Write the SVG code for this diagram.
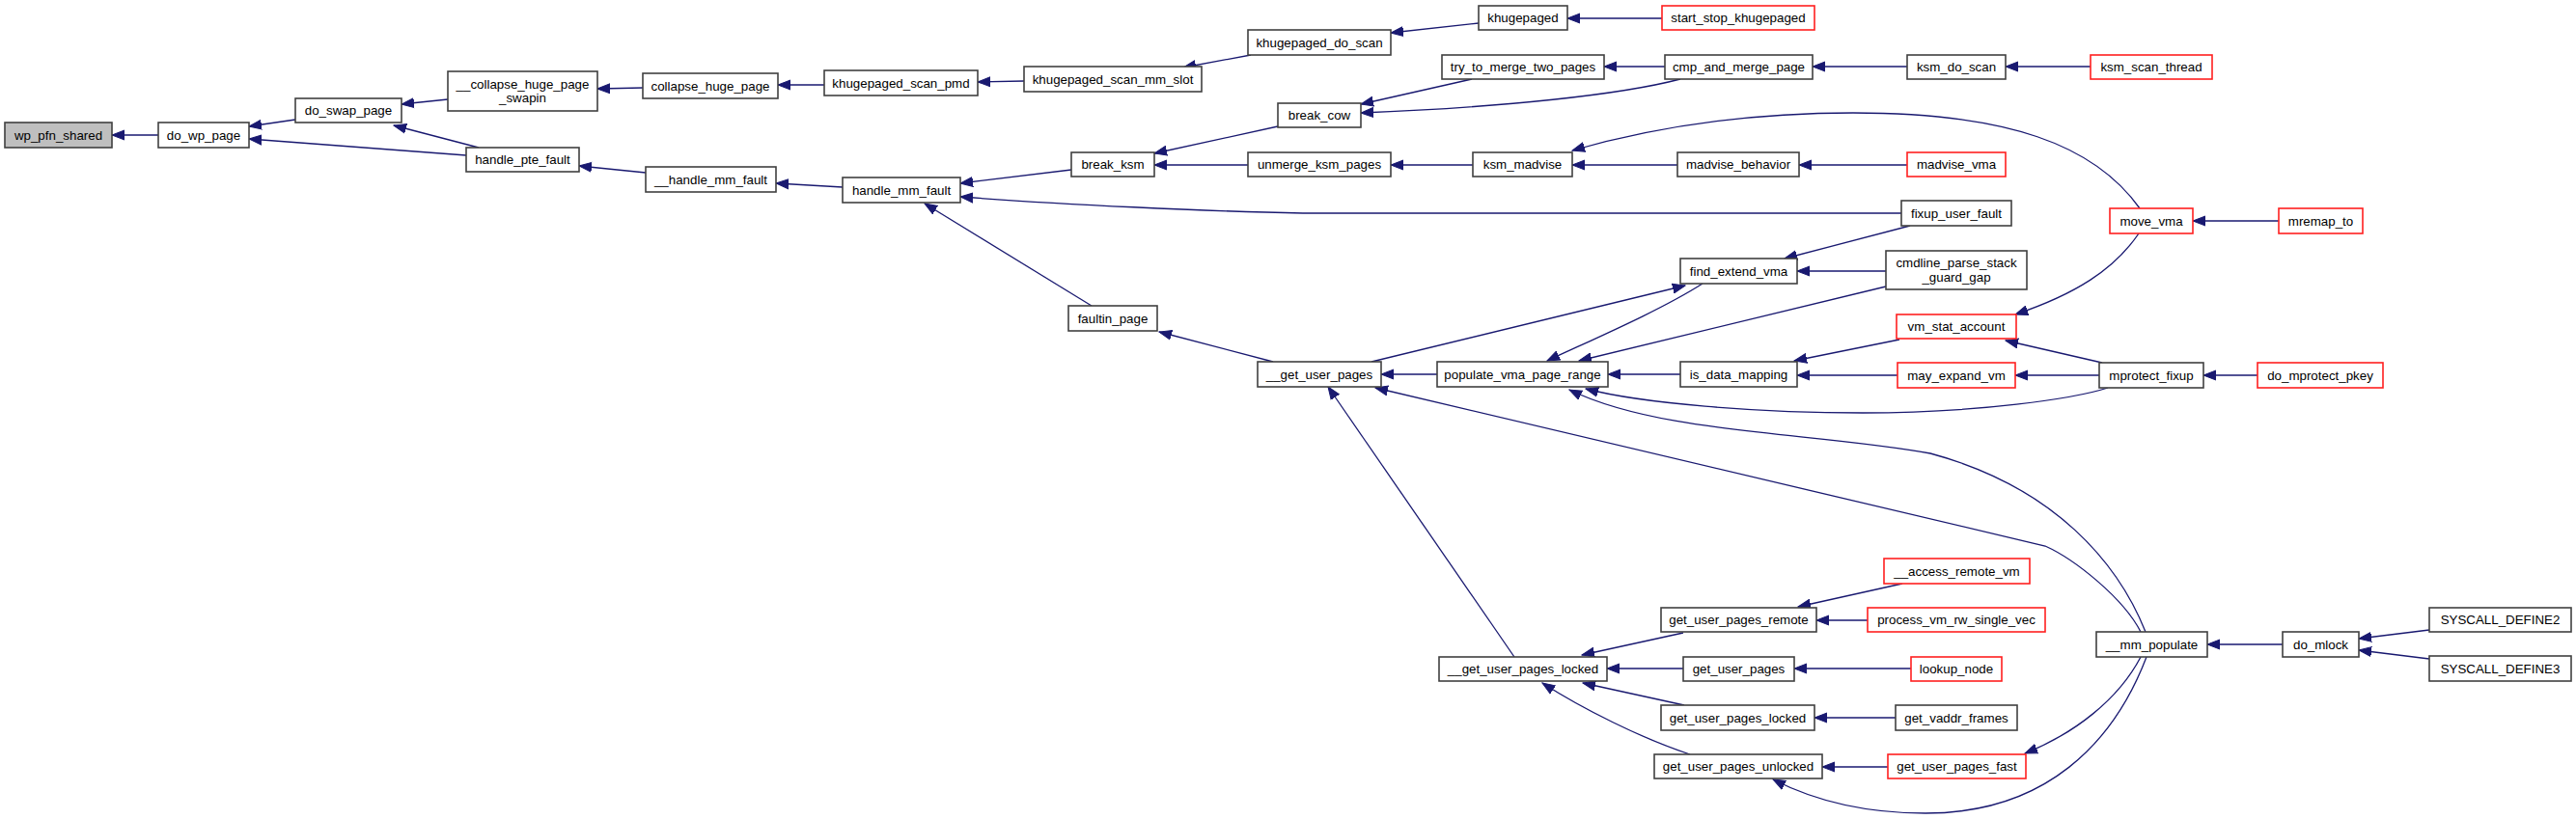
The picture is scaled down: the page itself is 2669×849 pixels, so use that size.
<svg xmlns="http://www.w3.org/2000/svg" width="2669" height="849" viewBox="0 0 2669 849">
<style>
.n rect{fill:#fff;stroke:#404040;stroke-width:1.6}
.r rect{fill:#fff;stroke:#ff2020;stroke-width:1.6}
.g rect{fill:#bfbfbf;stroke:#404040;stroke-width:1.6}
text{font-family:"Liberation Sans",Arial,Helvetica,sans-serif;font-size:13.33px;fill:#000;text-anchor:middle}
#edges path{fill:none;stroke:#191970;stroke-width:1.3;marker-end:url(#ah)}
</style>
<defs>
<marker id="ah" markerUnits="userSpaceOnUse" markerWidth="14" markerHeight="12" refX="13" refY="5" orient="auto" viewBox="0 0 14 10">
<path d="M0,0 L13,5 L0,10 z" fill="#191970" stroke="#191970" stroke-width="1"/>
</marker>
</defs>
<rect width="2669" height="849" fill="#fff"/>
<g id="edges">
<path d="M164,140 L116,140"/>
<path d="M306,124 L258,131"/>
<path d="M483,161 L258,144"/>
<path d="M464,103 L416,108"/>
<path d="M496,153 L408,130"/>
<path d="M666,91 L619,92"/>
<path d="M669,179 L600,172"/>
<path d="M854,88 L806,88"/>
<path d="M1061,84 L1013,85"/>
<path d="M1296,57 L1226,70"/>
<path d="M1532,24 L1441,34"/>
<path d="M1722,19 L1624,19"/>
<path d="M873,194 L804,190"/>
<path d="M1110,176 L995,190"/>
<path d="M1970,221 L1350,221 C1250,219 1100,212 995,204"/>
<path d="M1131,317 L958,211"/>
<path d="M1324,131 L1196,159"/>
<path d="M1293,171 L1196,171"/>
<path d="M1525,82 L1410,108"/>
<path d="M1741,82 C1680,98 1560,111 1410,117"/>
<path d="M1725,69 L1662,69"/>
<path d="M1976,69 L1878,69"/>
<path d="M2166,69 L2078,69"/>
<path d="M1526,171 L1441,171"/>
<path d="M1738,171 L1629,171"/>
<path d="M1976,171 L1864,171"/>
<path d="M2217,216 C2170,150 2080,117 1920,117 C1820,117 1720,130 1629,156"/>
<path d="M2361,229 L2272,229"/>
<path d="M1979,234 L1849,268"/>
<path d="M1954,281 L1862,281"/>
<path d="M1319,375 L1201,344"/>
<path d="M1421,375 L1746,296"/>
<path d="M1764,294 C1720,322 1650,352 1603,374"/>
<path d="M1954,297 L1636,374"/>
<path d="M1489,388 L1431,388"/>
<path d="M1741,388 L1666,388"/>
<path d="M1968,352 L1859,374"/>
<path d="M1966,389 L1862,389"/>
<path d="M2178,376 L2078,353"/>
<path d="M2216,242 C2190,280 2150,305 2088,326"/>
<path d="M2175,389 L2088,389"/>
<path d="M2339,389 L2283,389"/>
<path d="M2184,402 C2150,413 2050,428 1930,428 C1820,428 1700,418 1643,403"/>
<path d="M2223,655 C2195,585 2130,505 2000,470 C1880,448 1720,450 1626,404"/>
<path d="M2218,655 C2200,620 2150,580 2119,566 L1425,402"/>
<path d="M1569,681 L1376,401"/>
<path d="M1744,656 L1639,679"/>
<path d="M1971,605 L1863,629"/>
<path d="M1935,643 L1882,643"/>
<path d="M1744,693 L1665,693"/>
<path d="M1980,693 L1859,693"/>
<path d="M1745,731 L1640,708"/>
<path d="M1964,744 L1880,744"/>
<path d="M1751,782 C1700,765 1640,735 1598,708"/>
<path d="M1956,795 L1888,795"/>
<path d="M2218,681 C2195,725 2150,760 2098,781"/>
<path d="M2224,681 C2190,770 2120,843 1995,843 C1930,843 1880,830 1837,808"/>
<path d="M2365,668 L2287,668"/>
<path d="M2517,653 L2444,662"/>
<path d="M2517,683 L2444,674"/>
</g>
<g id="wp_pfn_shared" class="g"><rect x="5" y="127" width="111" height="26"/><text x="60.5" y="144.5">wp_pfn_shared</text></g>
<g id="do_wp_page" class="n"><rect x="164" y="127" width="94" height="26"/><text x="211" y="144.5">do_wp_page</text></g>
<g id="do_swap_page" class="n"><rect x="306" y="102" width="110" height="25"/><text x="361" y="119">do_swap_page</text></g>
<g id="__collapse_huge_page_swapin" class="n"><rect x="464" y="74" width="155" height="41"/><text x="541.5" y="91.5">__collapse_huge_page</text><text x="541.5" y="105.5">_swapin</text></g>
<g id="handle_pte_fault" class="n"><rect x="483" y="153" width="117" height="25"/><text x="541.5" y="170">handle_pte_fault</text></g>
<g id="collapse_huge_page" class="n"><rect x="666" y="76" width="140" height="26"/><text x="736" y="93.5">collapse_huge_page</text></g>
<g id="khugepaged_scan_pmd" class="n"><rect x="854" y="73" width="159" height="26"/><text x="933.5" y="90.5">khugepaged_scan_pmd</text></g>
<g id="khugepaged_scan_mm_slot" class="n"><rect x="1061" y="69" width="184" height="26"/><text x="1153" y="86.5">khugepaged_scan_mm_slot</text></g>
<g id="khugepaged_do_scan" class="n"><rect x="1293" y="31" width="148" height="26"/><text x="1367" y="48.5">khugepaged_do_scan</text></g>
<g id="khugepaged" class="n"><rect x="1532" y="6" width="92" height="25"/><text x="1578" y="23">khugepaged</text></g>
<g id="start_stop_khugepaged" class="r"><rect x="1722" y="6" width="158" height="25"/><text x="1801" y="23">start_stop_khugepaged</text></g>
<g id="__handle_mm_fault" class="n"><rect x="669" y="173" width="135" height="26"/><text x="736.5" y="190.5">__handle_mm_fault</text></g>
<g id="handle_mm_fault" class="n"><rect x="873" y="184" width="122" height="26"/><text x="934" y="201.5">handle_mm_fault</text></g>
<g id="break_ksm" class="n"><rect x="1110" y="158" width="86" height="25"/><text x="1153" y="175">break_ksm</text></g>
<g id="break_cow" class="n"><rect x="1324" y="107" width="86" height="25"/><text x="1367" y="124">break_cow</text></g>
<g id="unmerge_ksm_pages" class="n"><rect x="1293" y="158" width="148" height="25"/><text x="1367" y="175">unmerge_ksm_pages</text></g>
<g id="try_to_merge_two_pages" class="n"><rect x="1494" y="57" width="168" height="25"/><text x="1578" y="74">try_to_merge_two_pages</text></g>
<g id="cmp_and_merge_page" class="n"><rect x="1725" y="57" width="153" height="25"/><text x="1801.5" y="74">cmp_and_merge_page</text></g>
<g id="ksm_do_scan" class="n"><rect x="1976" y="57" width="102" height="25"/><text x="2027" y="74">ksm_do_scan</text></g>
<g id="ksm_scan_thread" class="r"><rect x="2166" y="57" width="126" height="25"/><text x="2229" y="74">ksm_scan_thread</text></g>
<g id="ksm_madvise" class="n"><rect x="1526" y="158" width="103" height="25"/><text x="1577.5" y="175">ksm_madvise</text></g>
<g id="madvise_behavior" class="n"><rect x="1738" y="158" width="126" height="25"/><text x="1801" y="175">madvise_behavior</text></g>
<g id="madvise_vma" class="r"><rect x="1976" y="158" width="102" height="25"/><text x="2027" y="175">madvise_vma</text></g>
<g id="fixup_user_fault" class="n"><rect x="1970" y="208" width="114" height="26"/><text x="2027" y="225.5">fixup_user_fault</text></g>
<g id="move_vma" class="r"><rect x="2186" y="216" width="86" height="26"/><text x="2229" y="233.5">move_vma</text></g>
<g id="mremap_to" class="r"><rect x="2361" y="216" width="87" height="26"/><text x="2404.5" y="233.5">mremap_to</text></g>
<g id="find_extend_vma" class="n"><rect x="1741" y="268" width="121" height="26"/><text x="1801.5" y="285.5">find_extend_vma</text></g>
<g id="cmdline_parse_stack_guard_gap" class="n"><rect x="1954" y="260" width="146" height="40"/><text x="2027" y="277">cmdline_parse_stack</text><text x="2027" y="291.5">_guard_gap</text></g>
<g id="faultin_page" class="n"><rect x="1107" y="317" width="92" height="26"/><text x="1153" y="334.5">faultin_page</text></g>
<g id="__get_user_pages" class="n"><rect x="1303" y="375" width="128" height="26"/><text x="1367" y="392.5">__get_user_pages</text></g>
<g id="populate_vma_page_range" class="n"><rect x="1489" y="375" width="177" height="26"/><text x="1577.5" y="392.5">populate_vma_page_range</text></g>
<g id="is_data_mapping" class="n"><rect x="1741" y="375" width="121" height="26"/><text x="1801.5" y="392.5">is_data_mapping</text></g>
<g id="vm_stat_account" class="r"><rect x="1965" y="326" width="124" height="25"/><text x="2027" y="343">vm_stat_account</text></g>
<g id="may_expand_vm" class="r"><rect x="1966" y="376" width="122" height="26"/><text x="2027" y="393.5">may_expand_vm</text></g>
<g id="mprotect_fixup" class="n"><rect x="2175" y="376" width="108" height="26"/><text x="2229" y="393.5">mprotect_fixup</text></g>
<g id="do_mprotect_pkey" class="r"><rect x="2339" y="376" width="130" height="26"/><text x="2404" y="393.5">do_mprotect_pkey</text></g>
<g id="__get_user_pages_locked" class="n"><rect x="1491" y="681" width="174" height="25"/><text x="1578" y="698">__get_user_pages_locked</text></g>
<g id="get_user_pages_remote" class="n"><rect x="1721" y="630" width="161" height="25"/><text x="1801.5" y="647">get_user_pages_remote</text></g>
<g id="__access_remote_vm" class="r"><rect x="1952" y="579" width="151" height="26"/><text x="2027.5" y="596.5">__access_remote_vm</text></g>
<g id="process_vm_rw_single_vec" class="r"><rect x="1935" y="630" width="184" height="25"/><text x="2027" y="647">process_vm_rw_single_vec</text></g>
<g id="get_user_pages" class="n"><rect x="1744" y="681" width="115" height="25"/><text x="1801.5" y="698">get_user_pages</text></g>
<g id="lookup_node" class="r"><rect x="1980" y="681" width="94" height="25"/><text x="2027" y="698">lookup_node</text></g>
<g id="get_user_pages_locked" class="n"><rect x="1721" y="731" width="159" height="26"/><text x="1800.5" y="748.5">get_user_pages_locked</text></g>
<g id="get_vaddr_frames" class="n"><rect x="1964" y="731" width="126" height="26"/><text x="2027" y="748.5">get_vaddr_frames</text></g>
<g id="get_user_pages_unlocked" class="n"><rect x="1714" y="782" width="174" height="25"/><text x="1801" y="799">get_user_pages_unlocked</text></g>
<g id="get_user_pages_fast" class="r"><rect x="1956" y="782" width="143" height="25"/><text x="2027.5" y="799">get_user_pages_fast</text></g>
<g id="__mm_populate" class="n"><rect x="2172" y="655" width="115" height="26"/><text x="2229.5" y="672.5">__mm_populate</text></g>
<g id="do_mlock" class="n"><rect x="2365" y="655" width="79" height="26"/><text x="2404.5" y="672.5">do_mlock</text></g>
<g id="SYSCALL_DEFINE2" class="n"><rect x="2517" y="630" width="147" height="25"/><text x="2590.5" y="647">SYSCALL_DEFINE2</text></g>
<g id="SYSCALL_DEFINE3" class="n"><rect x="2517" y="680" width="147" height="26"/><text x="2590.5" y="697.5">SYSCALL_DEFINE3</text></g>
</svg>
